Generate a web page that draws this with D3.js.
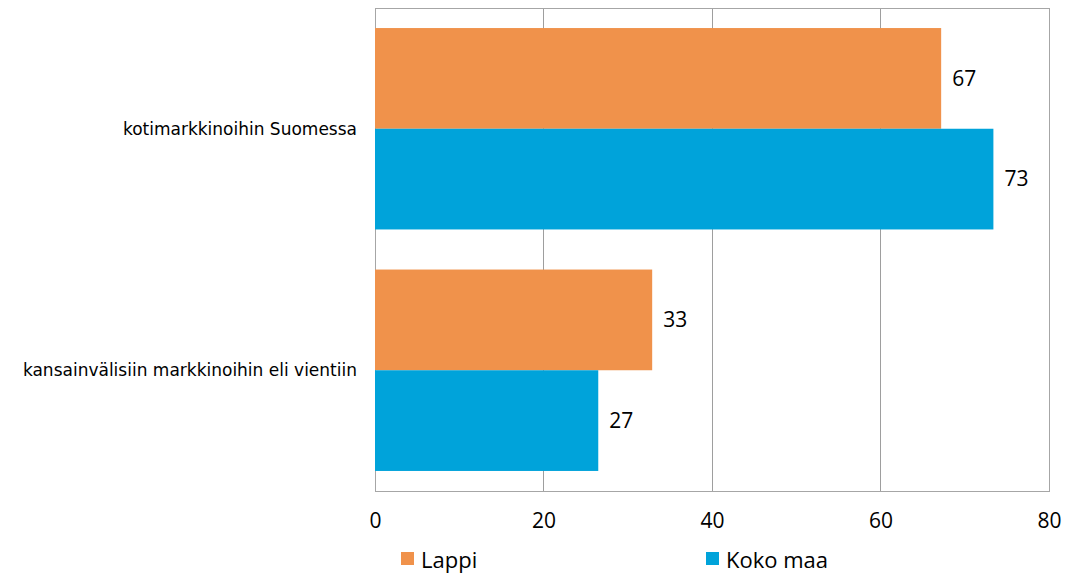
<!DOCTYPE html>
<html><head><meta charset="utf-8">
<script src="https://cdn.jsdelivr.net/npm/d3@7"></script>
<style>body{margin:0;background:#fff}</style>
</head><body>
<svg id="c" width="1074" height="578"></svg>
<script>
const categories = ["kotimarkkinoihin Suomessa", "kansainvälisiin markkinoihin eli vientiin"];
const seriesNames = ["Lappi", "Koko maa"];
const lappi = [67.2, 32.9];
const kokoMaa = [73.4, 26.5];
const tickValues = [0, 20, 40, 60, 80];
const colors = ["#F0924B", "#00A3DA"];

const svg = d3.select("#c");
const mLeft = 375, mRight = 1049, mTop = 8, mBottom = 491;
const x = d3.scaleLinear().domain([0, 80]).range([mLeft, mRight]);
const y0 = d3.scaleBand().domain(categories).range([mTop, mBottom]).paddingInner(0.166).paddingOuter(0.083);
const y1 = d3.scaleBand().domain(seriesNames).range([0, y0.bandwidth()]);

// gridlines
svg.append("g").selectAll("line").data(tickValues).join("line")
  .attr("x1", d => x(d)).attr("x2", d => x(d)).attr("y1", mTop).attr("y2", mBottom)
  .attr("stroke", "#9e9e9e").attr("stroke-width", 1).attr("shape-rendering", "crispEdges");
// border
svg.append("rect").attr("x", mLeft).attr("y", mTop).attr("width", mRight - mLeft).attr("height", mBottom - mTop)
  .attr("fill", "none").attr("stroke", "#a6a6a6").attr("shape-rendering", "crispEdges");

const data = categories.map((c, i) => ({cat: c, vals: [lappi[i], kokoMaa[i]]}));
const g = svg.append("g");
data.forEach(d => {
  d.vals.forEach((v, j) => {
    const yy = y0(d.cat) + y1(seriesNames[j]);
    g.append("rect").attr("x", x(0)).attr("y", yy).attr("width", x(v) - x(0)).attr("height", y1.bandwidth())
      .attr("fill", colors[j]);
    g.append("text").attr("x", x(v) + 11).attr("y", yy + y1.bandwidth() / 2)
      .attr("dy", "0.35em").attr("font-family", "Open Sans, sans-serif").attr("font-size", 21)
      .attr("fill", "#000").text(Math.round(v));
  });
});

// category labels
svg.append("g").selectAll("text").data(categories).join("text")
  .attr("x", 357).attr("y", d => y0(d) + y0.bandwidth() / 2).attr("dy", "0.35em")
  .attr("text-anchor", "end").attr("font-family", "DejaVu Sans, sans-serif").attr("font-size", 17)
  .attr("fill", "#000").text(d => d);

// x axis tick labels
const xAxis = d3.axisBottom(x).tickValues(tickValues).tickSize(0).tickPadding(22);
const ax = svg.append("g").attr("transform", `translate(0,${mBottom})`).call(xAxis);
ax.select(".domain").remove();
ax.selectAll("text").attr("font-family", "Open Sans, sans-serif").attr("font-size", 21).attr("fill", "#000");

// legend
const legX = [401, 706];
const leg = svg.append("g").selectAll("g").data(seriesNames).join("g")
  .attr("transform", (d, i) => `translate(${legX[i]},552)`);
leg.append("rect").attr("width", 13).attr("height", 13).attr("fill", (d, i) => colors[i]);
leg.append("text").attr("x", 20).attr("y", 8).attr("dy", "0.35em")
  .attr("font-family", "Open Sans, sans-serif").attr("font-size", 22).attr("fill", "#000").text(d => d);
</script>
</body></html>
